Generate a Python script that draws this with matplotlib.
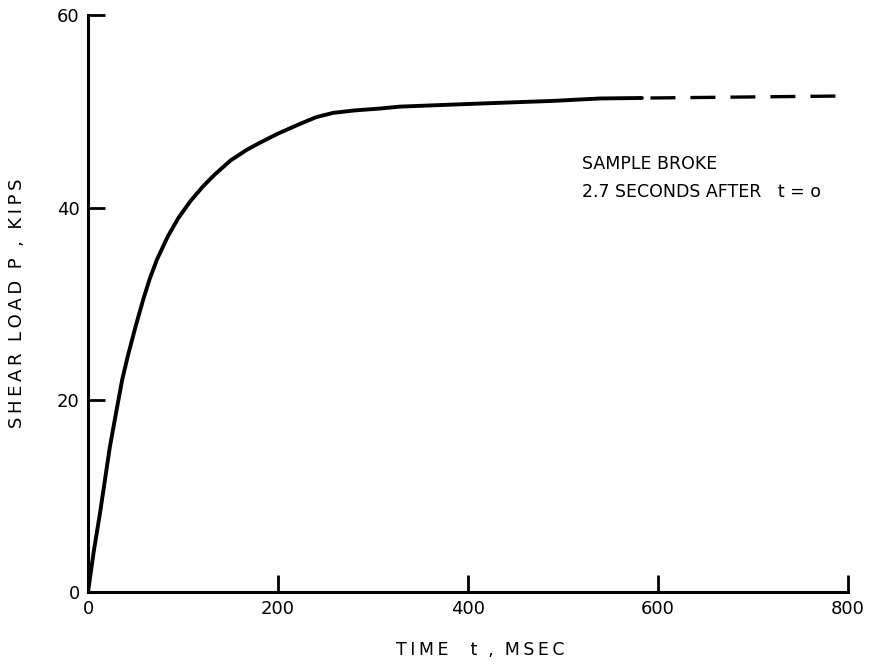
import numpy as np
import matplotlib.pyplot as plt

# values (time in msec, load in kips)
t_solid = [0, 6, 12.6, 23, 30, 36, 42, 50, 58, 65, 72.6, 84, 95, 108, 121, 133, 150, 167, 180, 200,
           223, 240, 258, 280, 307, 328, 380, 434, 490, 539, 583]
p_solid = [0, 4.2, 8.2, 15.1, 18.9, 22.1, 24.6, 27.6, 30.4, 32.6, 34.6, 37.0, 38.9, 40.7, 42.2, 43.4,
           44.9, 46.0, 46.7, 47.7, 48.7, 49.4, 49.85, 50.1, 50.3, 50.5, 50.7, 50.9, 51.1, 51.35, 51.4]
t_dash = [592, 788]
p_dash = [51.4, 51.6]

xticks = [0, 200, 400, 600, 800]
yticks = [0, 20, 40, 60]


def spaced(s, sep='\u2009'):
    # wide letter spacing like the original lettering
    return '  '.join(sep.join(w) for w in s.split(' '))


fig = plt.figure(figsize=(8.74, 6.66), dpi=100)
ax = fig.add_axes([0.1007, 0.111, 0.8696, 0.866])

ax.plot(t_solid, p_solid, color='black', lw=2.8, solid_capstyle='round', solid_joinstyle='round')
ax.plot(t_dash, p_dash, color='black', lw=2.4, dashes=(7.5, 4.5))

ax.set_xlim(0, 800)
ax.set_ylim(0, 60)
ax.set_xticks(xticks)
ax.set_yticks(yticks)
ax.spines['top'].set_visible(False)
ax.spines['right'].set_visible(False)
for s in ['left', 'bottom']:
    ax.spines[s].set_linewidth(2.2)
ax.tick_params(direction='in', length=12, width=2, labelsize=13, pad=6)

ax.set_xlabel(spaced('TIME  t , MSEC'), fontsize=12.5)
ax.xaxis.set_label_coords(0.516, -0.085)
ax.set_ylabel(spaced('SHEAR LOAD P , KIPS'), fontsize=13, labelpad=22)

ax.text(520, 44.5, 'SAMPLE BROKE', fontsize=12.5, va='center')
ax.text(520, 41.6, '2.7 SECONDS AFTER   t = o', fontsize=12.5, va='center')

fig.savefig('out.png', dpi=100)
